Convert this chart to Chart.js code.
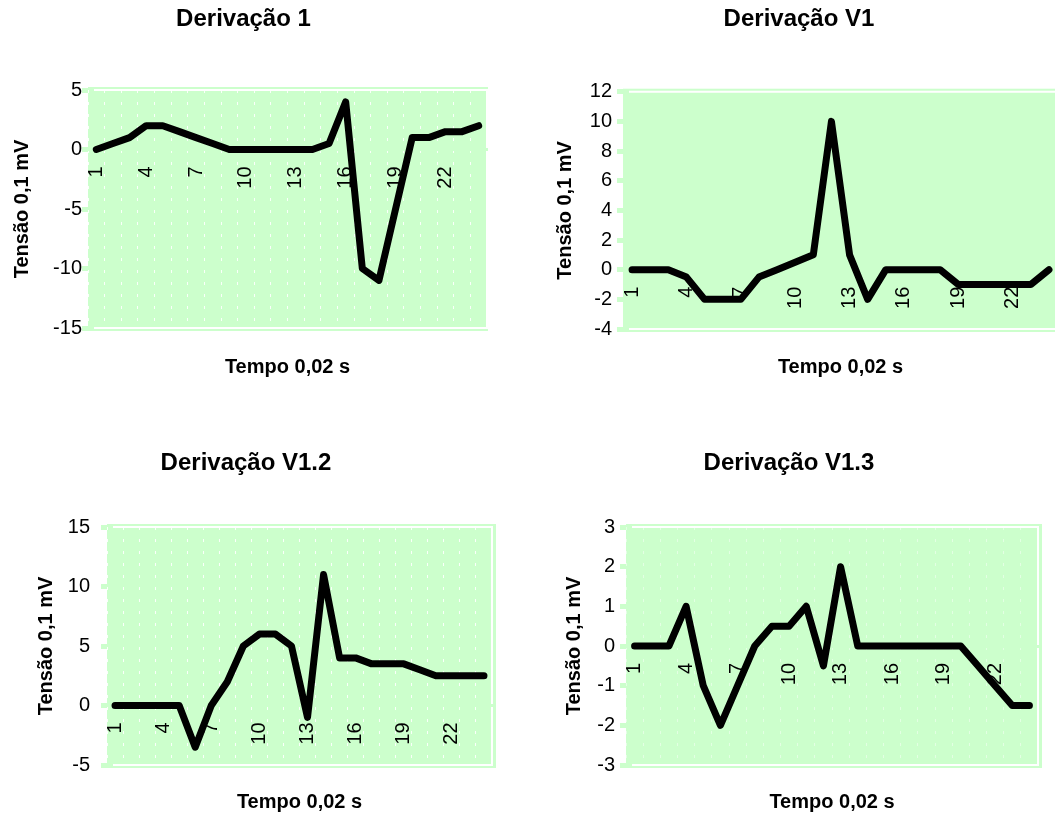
<!DOCTYPE html>
<html>
<head>
<meta charset="utf-8">
<script src="https://cdn.jsdelivr.net/npm/chart.js@4"></script>
<style>
  html, body { margin: 0; padding: 0; background: #fff; overflow: hidden; }
  body { width: 1055px; height: 816px; position: relative; }
  canvas { position: absolute; }
</style>
</head>
<body>
<canvas id="c1" width="488" height="385" style="left:0;top:0"></canvas>
<canvas id="c2" width="530" height="385" style="left:540px;top:0"></canvas>
<canvas id="c3" width="526" height="380" style="left:0;top:440px"></canvas>
<canvas id="c4" width="520" height="380" style="left:540px;top:440px"></canvas>
<script>
// tempo (amostras de 0,02 s)
var tempo = ["1","2","3","4","5","6","7","8","9","10","11","12",
             "13","14","15","16","17","18","19","20","21","22","23","24"];

var deriv1   = [0, 0.5, 1, 2, 2, 1.5, 1, 0.5, 0, 0, 0, 0, 0, 0, 0.5, 4, -10, -11, -5, 1, 1, 1.5, 1.5, 2];
var derivV1  = [0, 0, 0, -0.5, -2, -2, -2, -0.5, 0, 0.5, 1, 10, 1, -2, 0, 0, 0, 0, -1, -1, -1, -1, -1, 0];
var derivV12 = [0, 0, 0, 0, 0, -3.5, 0, 2, 5, 6, 6, 5, -1, 11, 4, 4, 3.5, 3.5, 3.5, 3, 2.5, 2.5, 2.5, 2.5];
var derivV13 = [0, 0, 0, 1, -1, -2, -1, 0, 0.5, 0.5, 1, -0.5, 2, 0, 0, 0, 0, 0, 0, 0, -0.5, -1, -1.5, -1.5];

// eixo y: [min, max, passo]
var escala1   = [-15, 5, 5];
var escalaV1  = [-4, 12, 2];
var escalaV12 = [-5, 15, 5];
var escalaV13 = [-3, 3, 1];

var fonte = "'Liberation Sans', Arial, sans-serif";
var verde = "#ccffcc";

var fundo = {
  id: 'fundo',
  beforeDraw: function(chart) {
    var ctx = chart.ctx, a = chart.chartArea;
    ctx.save();
    ctx.fillStyle = verde;
    ctx.fillRect(a.left, a.top - 3, a.right - a.left + 4, a.bottom - a.top + 6);
    ctx.strokeStyle = "#ffffff";
    ctx.lineWidth = 2;
    ctx.beginPath();
    ctx.moveTo(a.left + 6, a.top);
    ctx.lineTo(a.right, a.top);
    ctx.lineTo(a.right, a.bottom);
    ctx.lineTo(a.left + 6, a.bottom);
    ctx.stroke();
    ctx.restore();
  }
};

function grafico(id, titulo, dados, escala, o) {
  new Chart(document.getElementById(id), {
    type: 'line',
    data: {
      labels: tempo,
      datasets: [{
        data: dados,
        borderColor: "#000000",
        borderWidth: 7,
        borderCapStyle: 'round',
        borderJoinStyle: 'round',
        pointRadius: 0,
        tension: 0
      }]
    },
    options: {
      responsive: false,
      animation: false,
      layout: { padding: { left: 0, right: o.padRight, top: 0, bottom: 0 } },
      plugins: {
        legend: { display: false },
        tooltip: { enabled: false },
        title: {
          display: true,
          text: titulo,
          color: "#000",
          font: { family: fonte, size: 24, weight: 'bold' },
          padding: { top: o.titleTop, bottom: o.titleBottom }
        },
        subtitle: {
          display: true,
          position: 'bottom',
          fullSize: false,
          text: "Tempo 0,02 s",
          color: "#000",
          font: { family: fonte, size: 20, weight: 'bold' },
          padding: { top: o.subTop, bottom: 6 }
        }
      },
      scales: {
        x: {
          position: { y: 0 },
          offset: true,
          afterFit: function(s) { s.paddingLeft = 0; s.paddingRight = 0; },
          grid: {
            display: o.grid != null,
            offset: true,
            drawTicks: false,
            color: o.grid || "rgba(0,0,0,0)",
            lineWidth: 1
          },
          border: { display: true, color: verde, width: 3, dash: [3, 9] },
          ticks: {
            autoSkip: false,
            minRotation: 90,
            maxRotation: 90,
            padding: 17,
            color: "#000",
            font: { family: fonte, size: 20 },
            callback: function(v, i) { return i % 3 === 0 ? tempo[i] : ''; }
          }
        },
        y: {
          min: escala[0],
          max: escala[1],
          afterFit: function(s) { s.width = o.yWidth; },
          grid: { drawOnChartArea: false, drawTicks: true, tickLength: 6, color: verde, lineWidth: 5 },
          border: { display: false },
          ticks: {
            stepSize: escala[2],
            padding: o.tickPad,
            color: "#000",
            font: { family: fonte, size: 20 }
          },
          title: {
            display: true,
            text: "Tensão 0,1 mV",
            color: "#000",
            font: { family: fonte, size: 20, weight: 'bold' },
            padding: { top: o.yTitlePad, bottom: 0 }
          }
        }
      }
    },
    plugins: [fundo]
  });
}

grafico('c1', "Derivação 1", deriv1, escala1,
  { padRight: 1, titleTop: 5, titleBottom: 56.2, subTop: 27, yWidth: 88, tickPad: 0, yTitlePad: 10,
    grid: "rgba(255,255,255,0.9)" });
grafico('c2', "Derivação V1", derivV1, escalaV1,
  { padRight: 12, titleTop: 5, titleBottom: 57.9, subTop: 26, yWidth: 83, tickPad: 5, yTitlePad: 13,
    grid: null });
grafico('c3', "Derivação V1.2", derivV12, escalaV12,
  { padRight: 34, titleTop: 8.6, titleBottom: 49.6, subTop: 25, yWidth: 107, tickPad: 11, yTitlePad: 34,
    grid: "rgba(255,255,255,0.9)" });
grafico('c4', "Derivação V1.3", derivV13, escalaV13,
  { padRight: 22, titleTop: 8.6, titleBottom: 49.6, subTop: 25, yWidth: 86, tickPad: 5, yTitlePad: 22,
    grid: "rgba(255,255,255,0.45)" });
</script>
</body>
</html>
